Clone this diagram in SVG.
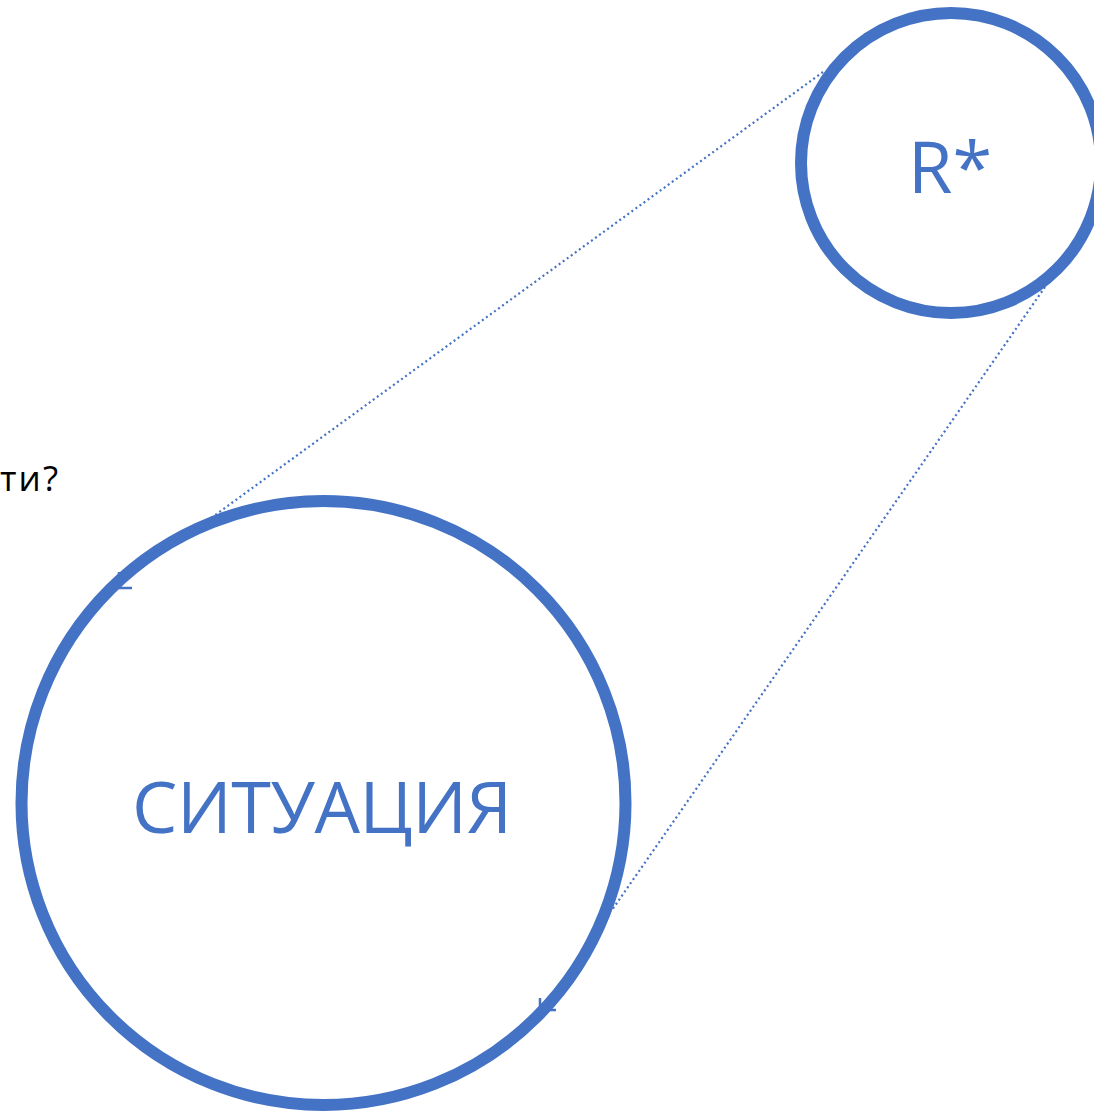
<svg xmlns="http://www.w3.org/2000/svg" width="1094" height="1113" viewBox="0 0 1094 1113">
<style>
.ring{fill:none;stroke:#4472C4;stroke-width:12}
.lbl{font-family:"Open Sans","Noto Sans","Liberation Sans",sans-serif;fill:#4472C4;font-size:72px;text-anchor:middle}
.dot{stroke:#4472C4;stroke-width:2.2;stroke-dasharray:2 3;fill:none}
.tick{stroke:#4472C4;stroke-width:2.5;fill:none}
</style>
<rect width="1094" height="1113" fill="#fff"/>
<text x="0" y="491" font-family="'Open Sans','Noto Sans',sans-serif" font-size="35" fill="#000" textLength="58">ти?</text>
<g id="connectors">
<line class="dot" x1="823" y1="72" x2="207" y2="521"/>
<line class="dot" x1="1045" y1="287" x2="612" y2="910"/>
<path class="tick" d="M119 572 L119 588 M119 588 L132 588"/>
<path class="tick" d="M540 998 L540 1012 M545 1010 L556 1010"/>
</g>
<g id="node-r">
<circle class="ring" cx="951" cy="163" r="150"/>
<text class="lbl" x="950" y="193">R*</text>
</g>
<g id="node-situation">
<circle class="ring" cx="323.5" cy="803" r="302"/>
<text class="lbl" x="322" y="833" textLength="380">СИТУАЦИЯ</text>
</g>
</svg>
